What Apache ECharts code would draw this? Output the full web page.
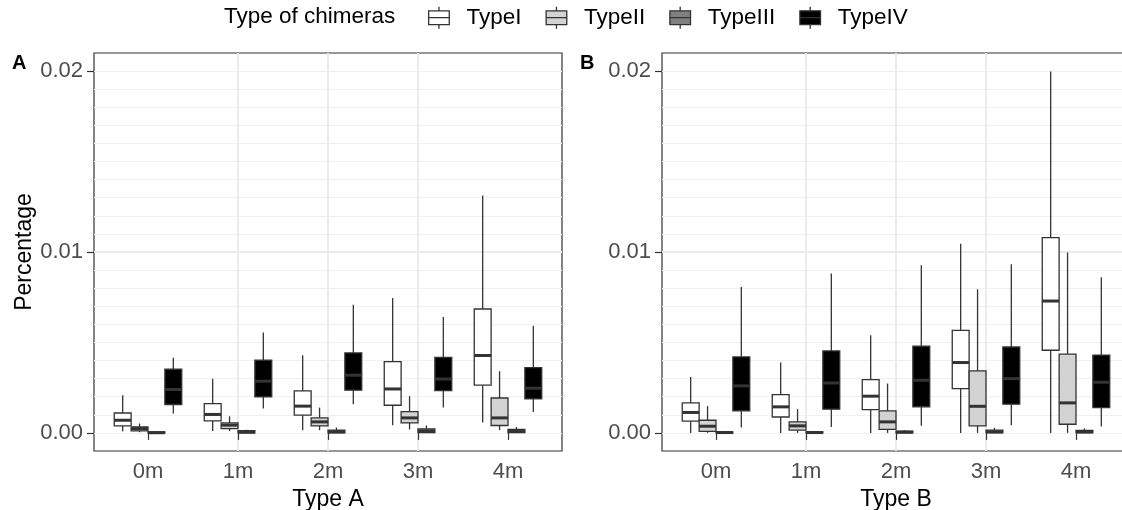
<!DOCTYPE html>
<html>
<head>
<meta charset="utf-8">
<script src="https://cdn.jsdelivr.net/npm/echarts@6/dist/echarts.min.js"></script>
<style>
  html, body { margin: 0; padding: 0; background: #fff; }
  #myChart { width: 1122px; height: 510px; }
</style>
</head>
<body>
<div id="myChart"></div>
<script>
var categories = ['0m', '1m', '2m', '3m', '4m'];
var types = ['TypeI', 'TypeII', 'TypeIII', 'TypeIV'];
var panelNames = ['Type A', 'Type B'];
var yTicks = [0, 0.01, 0.02];

// five-number summaries per category: [min, q1, median, q3, max]
var typeA_I = [[0.00009, 0.00039, 0.00070, 0.00110, 0.00208], [0.00011, 0.00066, 0.00102, 0.00162, 0.00300], [0.00015, 0.00098, 0.00148, 0.00232, 0.00429], [0.00043, 0.00153, 0.00243, 0.00394, 0.00746], [0.00057, 0.00264, 0.00428, 0.00685, 0.01313]];
var typeA_II = [[0.00004, 0.00011, 0.00024, 0.00033, 0.00052], [0.00010, 0.00024, 0.00043, 0.00055, 0.00092], [0.00015, 0.00039, 0.00061, 0.00083, 0.00140], [0.00019, 0.00055, 0.00083, 0.00118, 0.00203], [0.00015, 0.00041, 0.00083, 0.00193, 0.00341]];
var typeA_III = [[0, 0, 0.00001, 0.00006, 0.00010], [0, 0, 0.00004, 0.00012, 0.00018], [0, 0.00001, 0.00006, 0.00015, 0.00030], [0, 0.00002, 0.00010, 0.00022, 0.00041], [0, 0.00002, 0.00008, 0.00020, 0.00033]];
var typeA_IV = [[0.00107, 0.00157, 0.00240, 0.00352, 0.00416], [0.00135, 0.00199, 0.00286, 0.00402, 0.00555], [0.00159, 0.00236, 0.00319, 0.00442, 0.00709], [0.00140, 0.00234, 0.00298, 0.00417, 0.00641], [0.00116, 0.00188, 0.00247, 0.00361, 0.00593]];

var typeB_I = [[0, 0.00065, 0.00113, 0.00166, 0.00309], [0, 0.00088, 0.00144, 0.00212, 0.00389], [0, 0.00129, 0.00203, 0.00295, 0.00540], [0, 0.00245, 0.00389, 0.00567, 0.01046], [0, 0.00457, 0.00729, 0.01080, 0.01998]];
var typeB_II = [[0, 0.00009, 0.00037, 0.00070, 0.00148], [0, 0.00015, 0.00039, 0.00061, 0.00131], [0, 0.00020, 0.00061, 0.00122, 0.00273], [0, 0.00039, 0.00147, 0.00343, 0.00794], [0, 0.00048, 0.00166, 0.00435, 0.00997]];
var typeB_III = [[0, 0, 0.00002, 0.00005, 0.00008], [0, 0, 0.00002, 0.00006, 0.00010], [0, 0.00001, 0.00004, 0.00010, 0.00015], [0, 0.00002, 0.00005, 0.00015, 0.00028], [0, 0.00002, 0.00005, 0.00014, 0.00025]];
var typeB_IV = [[0.00030, 0.00122, 0.00260, 0.00420, 0.00807], [0.00033, 0.00131, 0.00276, 0.00453, 0.00881], [0.00039, 0.00144, 0.00291, 0.00479, 0.00927], [0.00043, 0.00159, 0.00300, 0.00475, 0.00932], [0.00035, 0.00140, 0.00280, 0.00430, 0.00860]];

var panelData = [
  [typeA_I, typeA_II, typeA_III, typeA_IV],
  [typeB_I, typeB_II, typeB_III, typeB_IV]
];

var fills = ['#ffffff', '#d3d3d3', '#808080', '#000000'];
var lineColor = '#333333';
var font = 'Liberation Sans, Arial, sans-serif';
var DODGE = 0.1875; // width of one box in category units

function renderBox(params, api) {
  var x = api.value(0);
  var lo = api.coord([x, api.value(1)]);
  var q1 = api.coord([x, api.value(2)]);
  var med = api.coord([x, api.value(3)]);
  var q3 = api.coord([x, api.value(4)]);
  var hi = api.coord([x, api.value(5)]);
  var w = api.size([DODGE, 0])[0];
  var fill = api.visual('color');
  return {
    type: 'group',
    children: [
      { type: 'line', shape: { x1: lo[0], y1: lo[1], x2: q1[0], y2: q1[1] }, style: { stroke: lineColor, lineWidth: 1.3 } },
      { type: 'line', shape: { x1: q3[0], y1: q3[1], x2: hi[0], y2: hi[1] }, style: { stroke: lineColor, lineWidth: 1.3 } },
      { type: 'rect', shape: { x: q3[0] - w / 2, y: q3[1], width: w, height: q1[1] - q3[1] }, style: { fill: fill, stroke: lineColor, lineWidth: 1.3 } },
      { type: 'line', shape: { x1: med[0] - w / 2, y1: med[1], x2: med[0] + w / 2, y2: med[1] }, style: { stroke: lineColor, lineWidth: 3 } }
    ]
  };
}

var grids = [
  { left: 94, top: 53, width: 468, height: 398 },
  { left: 662, top: 53, width: 468, height: 398 }
];
grids.forEach(function (g) {
  g.show = true;
  g.borderColor = lineColor;
  g.borderWidth = 1.2;
  g.backgroundColor = 'transparent';
  g.containLabel = false;
  g.outerBoundsMode = 'none';
});

var xAxes = [], yAxes = [], series = [];
panelNames.forEach(function (pname, p) {
  xAxes.push({
    type: 'value', gridIndex: p, min: -0.6, max: 4.6, position: 'bottom',
    name: pname, nameLocation: 'middle', nameGap: 32,
    nameTextStyle: { fontSize: 23, color: '#000', fontFamily: font },
    axisLine: { show: false },
    axisTick: { show: true, length: 7, customValues: [0, 1, 2, 3, 4], lineStyle: { color: lineColor, width: 1.2 } },
    axisLabel: {
      customValues: [0, 1, 2, 3, 4], margin: 10, fontSize: 22, color: '#4d4d4d', fontFamily: font,
      formatter: function (v) { return categories[Math.round(v)]; }
    },
    splitLine: { show: true, showMinLine: false, showMaxLine: false, lineStyle: { color: '#ebebeb', width: 2 } }
  });
  // minor grid axis
  yAxes.push({
    type: 'value', gridIndex: p, min: -0.001, max: 0.021, interval: 0.001, position: 'left',
    axisLine: { show: false }, axisTick: { show: false }, axisLabel: { show: false },
    splitLine: { show: true, showMinLine: false, showMaxLine: false, lineStyle: { color: '#f0f0f0', width: 1 } }
  });
  // major ticks and labels
  yAxes.push({
    type: 'value', gridIndex: p, min: -0.001, max: 0.021, position: 'left', offset: 0,
    name: p === 0 ? 'Percentage' : '', nameLocation: 'middle', nameGap: 58,
    nameTextStyle: { fontSize: 23, color: '#000', fontFamily: font },
    axisLine: { show: false },
    axisTick: { show: true, length: 7, customValues: yTicks, lineStyle: { color: lineColor, width: 1.2 } },
    axisLabel: {
      customValues: yTicks, margin: 11, fontSize: 22, color: '#4d4d4d', fontFamily: font,
      formatter: function (v) { return v.toFixed(2); }
    },
    splitLine: { show: true, showMinLine: false, showMaxLine: false, lineStyle: { color: '#ebebeb', width: 2 } }
  });

  types.forEach(function (t, k) {
    var rows = panelData[p][k].map(function (s, i) {
      return [i + (k - 1.5) * DODGE].concat(s);
    });
    series.push({
      type: 'custom', name: t, xAxisIndex: p, yAxisIndex: p * 2,
      itemStyle: { color: fills[k] },
      renderItem: renderBox,
      encode: { x: 0, y: [1, 2, 3, 4, 5] },
      data: rows,
      z: 3
    });
  });
});

var myChart = echarts.init(document.getElementById('myChart'));
myChart.setOption({
  animation: false,
  textStyle: { fontFamily: font },
  title: [
    { text: 'A', left: 12, top: 53, padding: 0, textStyle: { fontSize: 20, fontWeight: 'bold', color: '#000', fontFamily: font } },
    { text: 'B', left: 580, top: 53, padding: 0, textStyle: { fontSize: 20, fontWeight: 'bold', color: '#000', fontFamily: font } },
    { text: 'Type of chimeras', left: 224, top: 5, padding: 0, textStyle: { fontSize: 22.5, fontWeight: 'normal', color: '#000', fontFamily: font } }
  ],
  legend: {
    data: types, left: 428, top: 6, padding: 0,
    itemWidth: 21, itemHeight: 22, itemGap: 24,
    selectedMode: false,
    icon: 'path://M10.5,0 L10.5,4.2 M0,4.2 L21,4.2 L21,18.2 L0,18.2 Z M0,11.2 L21,11.2 M10.5,18.2 L10.5,22.4',
    itemStyle: { borderColor: lineColor, borderWidth: 1.3 },
    textStyle: { fontSize: 22.5, color: '#000', fontFamily: font, padding: [0, 0, 0, 12] }
  },
  grid: grids,
  xAxis: xAxes,
  yAxis: yAxes,
  series: series
});
</script>
</body>
</html>
